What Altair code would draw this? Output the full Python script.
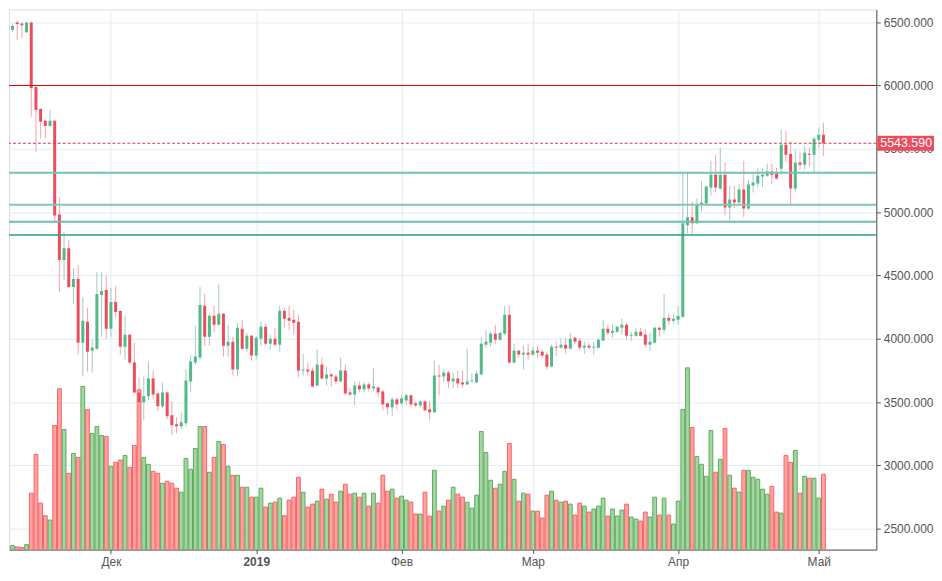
import altair as alt
import pandas as pd

start_date = "2018-11-10"

opens = [6440, 6497, 6490, 6420, 6498, 5988, 5815, 5721, 5681, 5721,
         4982, 4621, 4715, 4409, 4472, 3969, 4134, 3906, 3922, 4346,
         4385, 4079, 4291, 4220, 3937, 4032, 3812, 3576, 3498, 3545,
         3686, 3568, 3466, 3576, 3395, 3325, 3309, 3333, 3663, 3812,
         3851, 4260, 4016, 4181, 4110, 4197, 3945, 3977, 3757, 4079,
         3922, 4024, 3867, 4000, 4095, 3961, 4000, 3953, 4220, 4165,
         4150, 4134, 3749, 3757, 3749, 3631, 3796, 3686, 3718, 3702,
         3663, 3749, 3576, 3560, 3631, 3600, 3639, 3608, 3615, 3584,
         3490, 3458, 3521, 3490, 3513, 3553, 3490, 3474, 3505, 3443,
         3419, 3710, 3702, 3733, 3663, 3686, 3655, 3639, 3663, 3655,
         3718, 3953, 3969, 4040, 3992, 4040, 4189, 3812, 3906, 3875,
         3890, 3875, 3906, 3898, 3875, 3780, 3937, 3930, 3953, 3922,
         4008, 3985, 3930, 3945, 3930, 3930, 3985, 4079, 4047, 4055,
         4087, 4110, 4024, 4024, 4055, 4032, 3953, 3969, 4087, 4071,
         4165, 4142, 4150, 4173, 4896, 4959, 4912, 5061, 5069, 5194,
         5296, 5186, 5296, 5037, 5100, 5076, 5178, 5029, 5210, 5225,
         5281, 5288, 5320, 5304, 5343, 5532, 5461, 5186, 5391, 5375,
         5461, 5453, 5571, 5611]
highs = [6490, 6514, 6495, 6500, 6506, 5996, 5820, 5732, 5807, 5725,
         5116, 4841, 4778, 4558, 4582, 4330, 4244, 3992, 4527, 4527,
         4495, 4401, 4417, 4225, 4181, 4040, 3969, 3694, 3702, 3820,
         3749, 3575, 3655, 3580, 3505, 3380, 3419, 3757, 3870, 4102,
         4409, 4354, 4197, 4260, 4432, 4205, 4110, 4016, 4126, 4150,
         4047, 4030, 4024, 4134, 4118, 4032, 4087, 4260, 4244, 4260,
         4228, 4189, 3882, 3812, 3773, 3914, 3851, 3780, 3733, 3720,
         3851, 3796, 3615, 3663, 3663, 3655, 3655, 3765, 3623, 3592,
         3495, 3537, 3537, 3560, 3568, 3560, 3505, 3513, 3513, 3505,
         3827, 3796, 3757, 3749, 3733, 3749, 3749, 3922, 3725, 3749,
         4008, 4071, 4055, 4110, 4055, 4260, 4260, 3961, 3914, 3945,
         3961, 3937, 3945, 3914, 3898, 3953, 3977, 4008, 4008, 4047,
         4016, 4008, 3977, 3961, 3977, 4008, 4150, 4110, 4110, 4102,
         4157, 4126, 4055, 4087, 4087, 4079, 4047, 4095, 4095, 4354,
         4197, 4197, 4260, 5312, 5312, 5084, 5108, 5241, 5210, 5406,
         5453, 5508, 5391, 5210, 5210, 5218, 5406, 5257, 5304, 5351,
         5343, 5383, 5383, 5351, 5650, 5642, 5563, 5493, 5469, 5524,
         5508, 5595, 5666, 5705]
lows = [6420, 6357, 6373, 6415, 5752, 5477, 5579, 5579, 5675, 4919,
        4369, 4464, 4401, 4275, 3875, 3702, 3741, 3733, 3915, 4016,
        4000, 4016, 4165, 3875, 3835, 3796, 3570, 3427, 3356, 3513,
        3521, 3427, 3450, 3364, 3238, 3254, 3286, 3309, 3576, 3796,
        3827, 3945, 3945, 4055, 4105, 3859, 3859, 3710, 3702, 3914,
        3898, 3827, 3835, 3945, 3950, 3914, 3945, 3898, 4087, 4071,
        4032, 3694, 3710, 3710, 3615, 3623, 3678, 3631, 3623, 3640,
        3655, 3553, 3545, 3474, 3576, 3576, 3584, 3584, 3537, 3435,
        3403, 3388, 3443, 3474, 3474, 3458, 3458, 3458, 3427, 3356,
        3415, 3553, 3655, 3608, 3608, 3608, 3615, 3635, 3655, 3650,
        3710, 3930, 3937, 3961, 3985, 4030, 3804, 3804, 3851, 3757,
        3835, 3867, 3851, 3843, 3757, 3773, 3867, 3922, 3882, 3914,
        3961, 3906, 3882, 3914, 3875, 3922, 3985, 4032, 4008, 4047,
        4032, 3992, 3985, 4016, 4016, 3930, 3906, 3961, 4016, 4040,
        4110, 4118, 4110, 4165, 4833, 4825, 4904, 5006, 5061, 5131,
        5155, 5178, 4974, 4935, 5029, 5069, 4959, 5014, 5155, 5194,
        5202, 5280, 5225, 5257, 5296, 5398, 5061, 5155, 5336, 5336,
        5359, 5312, 5508, 5446]
closes = [6470, 6485, 6476, 6498, 5980, 5807, 5713, 5681, 5721, 4974,
          4621, 4715, 4409, 4472, 3969, 4142, 3898, 3930, 4354, 4377,
          4079, 4291, 4212, 3937, 4032, 3812, 3576, 3498, 3545, 3686,
          3560, 3466, 3576, 3388, 3317, 3309, 3340, 3670, 3820, 3859,
          4267, 4016, 4181, 4110, 4197, 3945, 3977, 3757, 4087, 3922,
          4024, 3867, 4008, 4095, 3961, 4000, 3953, 4220, 4157, 4142,
          4126, 3749, 3757, 3741, 3623, 3796, 3686, 3718, 3702, 3663,
          3749, 3568, 3560, 3631, 3600, 3639, 3608, 3623, 3576, 3482,
          3458, 3521, 3482, 3529, 3553, 3482, 3474, 3505, 3435, 3419,
          3710, 3702, 3733, 3663, 3686, 3647, 3639, 3663, 3670, 3725,
          3961, 3977, 4040, 3992, 4047, 4189, 3812, 3906, 3875, 3890,
          3875, 3906, 3890, 3867, 3780, 3937, 3930, 3953, 3922, 4000,
          3977, 3930, 3945, 3930, 3937, 3992, 4079, 4047, 4063, 4095,
          4110, 4024, 4032, 4055, 4024, 3953, 3977, 4087, 4071, 4165,
          4142, 4157, 4181, 4912, 4959, 4912, 5061, 5076, 5202, 5296,
          5194, 5296, 5037, 5100, 5076, 5178, 5029, 5218, 5233, 5288,
          5296, 5320, 5296, 5265, 5532, 5453, 5186, 5391, 5375, 5469,
          5453, 5579, 5611, 5543.59]
volumes = [40, 27, 20, 50, 567, 957, 467, 340, 297, 1247,
           1617, 1207, 767, 967, 927, 1640, 1407, 1167, 1237, 1147,
           1137, 837, 877, 900, 947, 827, 1047, 1607, 927, 857,
           787, 767, 667, 687, 667, 617, 577, 917, 807, 1017,
           1237, 1237, 777, 927, 1087, 1057, 837, 747, 747, 627,
           627, 527, 527, 617, 427, 467, 477, 517, 340, 497,
           527, 727, 577, 427, 457, 487, 607, 507, 557, 477,
           587, 657, 557, 567, 527, 567, 437, 567, 467, 747,
           587, 607, 517, 537, 497, 477, 357, 357, 577, 337,
           797, 387, 437, 497, 627, 557, 527, 477, 417, 547,
           1187, 977, 697, 617, 657, 787, 1067, 707, 487, 567,
           557, 387, 387, 317, 547, 587, 497, 477, 487, 457,
           347, 467, 437, 377, 407, 437, 517, 337, 407, 337,
           397, 457, 327, 307, 287, 377, 327, 527, 347, 517,
           347, 257, 487, 1407, 1827, 1227, 937, 857, 737, 1197,
           777, 907, 1217, 747, 617, 577, 797, 797, 727, 707,
           607, 557, 637, 377, 367, 947, 877, 997, 567, 737,
           717, 717, 517, 757]

month_ticks = [21, 52, 83, 111, 142, 172]
month_labels = ["Дек", "2019", "Фев", "Мар", "Апр", "Май"]
price_ticks = [2500, 2750, 3000, 3250, 3500, 3750, 4000, 4250, 4500,
               4750, 5000, 5250, 5500, 5750, 6000, 6250, 6500]
level_values = [5310, 5059, 4924, 4819]
level_colors = ["#72c3b2", "#7fc9b9", "#6cbfae", "#23a085"]
level_widths = [2, 2, 2, 1.5]
red_level = 6000
last_price = 5543.59

UP_BODY, DOWN_BODY = "#53b987", "#eb4d5c"
UP_WICK, DOWN_WICK = "#a3c9c5", "#f5a2ac"
UP_VOL_FILL, DOWN_VOL_FILL = "#a4d5a2", "#ffa2a2"
UP_VOL_LINE, DOWN_VOL_LINE = "#5dab5b", "#f56464"

n = len(opens)
df = pd.DataFrame({
    "date": pd.date_range(start_date, periods=n, freq="D").strftime("%Y-%m-%d"),
    "day": list(range(n)),
    "open": opens, "high": highs, "low": lows, "close": closes,
    "volume": volumes,
})
up = df["close"] >= df["open"]
df["body_color"] = up.map({True: UP_BODY, False: DOWN_BODY})
df["wick_color"] = up.map({True: UP_WICK, False: DOWN_WICK})
df["vol_fill"] = up.map({True: UP_VOL_FILL, False: DOWN_VOL_FILL})
df["vol_line"] = up.map({True: UP_VOL_LINE, False: DOWN_VOL_LINE})

label_expr = "{" + ",".join(f"'{t}':'{l}'" for t, l in zip(month_ticks, month_labels)) + "}[datum.value]"

x_scale = alt.Scale(domain=[0.312, 183.22], nice=False, zero=False)
x_enc = alt.X(
    "day:Q", scale=x_scale, title=None,
    axis=alt.Axis(values=month_ticks, labelExpr=label_expr, grid=True,
                  gridColor="#e3ecf2", domainColor="#555555", tickColor="#555555",
                  tickSize=4, labelColor="#555555", labelFontSize=12,
                  labelFont="Liberation Sans", labelPadding=3,
                  labelFontWeight={"condition": {"test": "datum.value == 52", "value": "bold"},
                                   "value": "normal"}),
)
y_scale = alt.Scale(domain=[2335, 6600], nice=False, zero=False)
y_axis = alt.Axis(values=price_ticks, format=".3f", orient="right", grid=True,
                  gridColor="#e3ecf2", domainColor="#555555", tickColor="#555555",
                  tickSize=4, labelColor="#555555", labelFontSize=12,
                  labelFont="Liberation Sans", labelPadding=3, zindex=0)

base = alt.Chart(df)

volume = base.mark_bar(size=3.8, strokeWidth=1, clip=True).encode(
    x=x_enc,
    y=alt.Y("volume:Q", scale=alt.Scale(domain=[0, 5430], nice=False), axis=None, title=None),
    fill=alt.Fill("vol_fill:N", scale=None),
    stroke=alt.Stroke("vol_line:N", scale=None),
)

wicks = base.mark_rule(strokeWidth=1, clip=True).encode(
    x=alt.X("day:Q", scale=x_scale),
    y=alt.Y("low:Q", scale=y_scale, axis=y_axis, title=None),
    y2="high:Q",
    color=alt.Color("wick_color:N", scale=None),
)
bodies = base.mark_bar(size=3, clip=True).encode(
    x=alt.X("day:Q", scale=x_scale),
    y=alt.Y("open:Q", scale=y_scale),
    y2="close:Q",
    color=alt.Color("body_color:N", scale=None),
)

levels_df = pd.DataFrame({"level": level_values, "color": level_colors, "w": level_widths})
levels = alt.Chart(levels_df).mark_rule(clip=True).encode(
    y=alt.Y("level:Q", scale=y_scale),
    color=alt.Color("color:N", scale=None),
    strokeWidth=alt.StrokeWidth("w:Q", scale=None),
)
red_df = pd.DataFrame({"level": [red_level]})
red_line = alt.Chart(red_df).mark_rule(color="#d40000", strokeWidth=1).encode(
    y=alt.Y("level:Q", scale=y_scale))

price_df = pd.DataFrame({"price": [last_price], "label": [f"{last_price:.3f}"]})
price_df["top"] = price_df["price"] + 60
price_df["bottom"] = price_df["price"] - 58
price_line = alt.Chart(price_df).mark_rule(color="#e0394b", strokeWidth=1, strokeDash=[3, 2]).encode(
    y=alt.Y("price:Q", scale=y_scale))
price_box = alt.Chart(price_df).mark_rect(color="#eb4d5c").encode(
    x=alt.value(873), x2=alt.value(930),
    y=alt.Y("top:Q", scale=y_scale), y2="bottom:Q")
price_text = alt.Chart(price_df).mark_text(color="white", fontSize=12.5, font="Liberation Sans",
                                           align="center", baseline="middle").encode(
    x=alt.value(902), y=alt.Y("price:Q", scale=y_scale), text="label:N")

price_layer = alt.layer(wicks, bodies, levels, red_line, price_line, price_box, price_text)

chart = alt.layer(volume, price_layer).resolve_scale(y="independent").properties(
    width=872, height=543, padding={"left": 0, "top": 0, "right": 0, "bottom": 0}
).configure_view(stroke=None).configure(background="white")

chart.save("out.html", embed_options={"renderer": "svg", "actions": False})
